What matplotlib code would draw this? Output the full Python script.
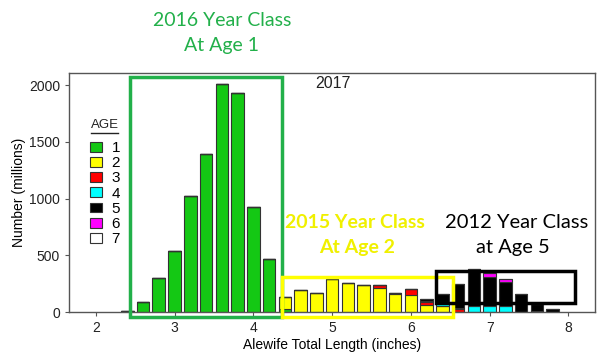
import numpy as np
import matplotlib.pyplot as plt
from matplotlib.patches import Rectangle
from matplotlib.lines import Line2D

# bin centres (inches) and numbers (millions) per age
lengths = [2.4, 2.6, 2.8, 3.0, 3.2, 3.4, 3.6, 3.8, 4.0, 4.2, 4.4, 4.6, 4.8, 5.0,
           5.2, 5.4, 5.6, 5.8, 6.0, 6.2, 6.4, 6.6, 6.8, 7.0, 7.2, 7.4, 7.6, 7.8]
age1 = [8, 88, 303, 541, 1026, 1391, 2008, 1926, 926, 467, 25, 0, 0, 0,
        0, 0, 0, 0, 0, 0, 0, 0, 0, 0, 0, 0, 0, 0]
age2 = [0, 0, 0, 0, 0, 0, 0, 0, 0, 0, 107, 198, 171, 291,
        256, 241, 215, 160, 153, 65, 50, 0, 0, 0, 0, 0, 0, 0]
age3 = [0, 0, 0, 0, 0, 0, 0, 0, 0, 0, 0, 0, 0, 0,
        0, 0, 26, 8, 50, 25, 5, 25, 0, 0, 0, 0, 0, 0]
age4 = [0, 0, 0, 0, 0, 0, 0, 0, 0, 0, 0, 0, 0, 0,
        0, 0, 0, 0, 0, 10, 30, 10, 50, 50, 50, 0, 12, 0]
age5 = [0, 0, 0, 0, 0, 0, 0, 0, 0, 0, 0, 0, 0, 0,
        0, 0, 0, 0, 0, 12, 70, 210, 325, 260, 218, 155, 62, 30]
age6 = [0, 0, 0, 0, 0, 0, 0, 0, 0, 0, 0, 0, 0, 0,
        0, 0, 0, 0, 0, 0, 0, 0, 0, 30, 20, 5, 0, 0]
age7 = [0] * 28

ages = ['1', '2', '3', '4', '5', '6', '7']
series = [age1, age2, age3, age4, age5, age6, age7]
colors = ['#14c814', '#ffff00', '#ff0000', '#00ffff', '#000000', '#ff00ff', '#ffffff']

fig = plt.figure(figsize=(6, 3.62), dpi=100)
ax = fig.add_axes([0.115, 0.138, 0.877, 0.66])

bottom = np.zeros(len(lengths))
handles = []
for lab, vals, col in zip(ages, series, colors):
    b = ax.bar(lengths, vals, width=0.16, bottom=bottom, color=col,
               edgecolor='#333333', linewidth=0.8, label=lab)
    handles.append(b)
    bottom += np.array(vals)

ax.set_xlim(1.66, 8.34)
ax.set_ylim(0, 2105)
ax.set_xticks([2, 3, 4, 5, 6, 7, 8])
ax.set_yticks([0, 500, 1000, 1500, 2000])
for s in ax.spines.values():
    s.set_color('#555555')
    s.set_linewidth(1.0)
ax.tick_params(colors='#555555', labelcolor='#222222', length=3, labelsize=10)
for t in ax.get_xticklabels() + ax.get_yticklabels():
    t.set_family('Liberation Sans')
ax.set_xlabel('Alewife Total Length (inches)', family='Liberation Sans',
              fontsize=10, labelpad=2)
ax.set_ylabel('Number (millions)', family='Liberation Sans', fontsize=10,
              labelpad=2)

# year class boxes
ax.add_patch(Rectangle((2.43, -44), 1.94, 2116, fill=False, edgecolor='#22b04a',
                       linewidth=2.5, clip_on=False, zorder=5))
ax.add_patch(Rectangle((4.36, -44), 2.18, 353, fill=False, edgecolor='#ffff00',
                       linewidth=2.5, clip_on=False, zorder=5))
ax.add_patch(Rectangle((6.32, 83), 1.76, 278, fill=False, edgecolor='#000000',
                       linewidth=2.5, clip_on=False, zorder=5))

ax.text(5.01, 2017, '2017', fontsize=11.5, family='Liberation Sans', ha='center',
        va='center', color='#222222')

fig.text(222 / 600, 1 - 20 / 362, '2016 Year Class', color='#22b04a',
         fontsize=14, family='Lato', ha='center', va='center')
fig.text(222 / 600, 1 - 45 / 362, 'At Age 1', color='#22b04a',
         fontsize=14, family='Lato', ha='center', va='center')
fig.text(355 / 600, 1 - 222 / 362, '2015 Year Class', color='#f0f000',
         fontsize=14, family='Lato', fontweight='bold', ha='center', va='center')
fig.text(357 / 600, 1 - 248 / 362, 'At Age 2', color='#f0f000',
         fontsize=14, family='Lato', fontweight='bold', ha='center', va='center')
fig.text(517 / 600, 1 - 222 / 362, '2012 Year Class', color='#000000',
         fontsize=14.5, family='Lato', ha='center', va='center')
fig.text(513 / 600, 1 - 248 / 362, 'at Age 5', color='#000000',
         fontsize=14.5, family='Lato', ha='center', va='center')

# legend with underlined title
fig.text(91 / 600, 1 - 125 / 362, 'AGE', fontsize=9.5, family='Liberation Sans',
         ha='left', va='center', color='#222222')
fig.add_artist(Line2D([91 / 600, 118 / 600], [1 - 133 / 362, 1 - 133 / 362],
                      color='#222222', linewidth=1.0))
leg = fig.legend(handles=handles, labels=ages, loc='upper left',
                 bbox_to_anchor=(87 / 600, 1 - 138 / 362),
                 frameon=False, handlelength=0.8, handleheight=0.6,
                 handletextpad=0.6, labelspacing=0.08, borderpad=0.2,
                 borderaxespad=0,
                 prop={'family': 'Liberation Sans', 'size': 11})

fig.savefig('out.png', dpi=100)
